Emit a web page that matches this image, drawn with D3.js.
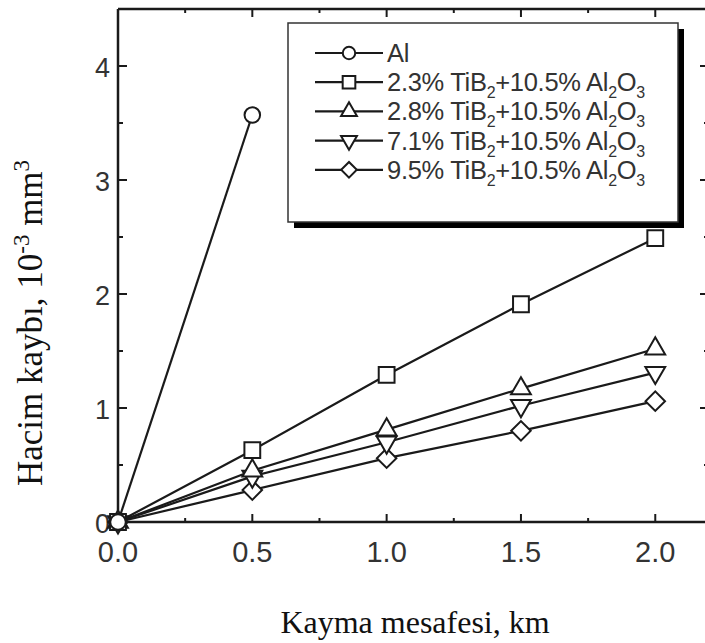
<!DOCTYPE html>
<html>
<head>
<meta charset="utf-8">
<script src="https://cdn.jsdelivr.net/npm/d3@7"></script>
<style>
  html, body { margin: 0; padding: 0; background: #fff; }
  svg { display: block; }
</style>
</head>
<body>
<svg id="chart" width="705" height="643"></svg>
<script>
// Sliding distance (km) at which wear volume was measured
const distances = [0, 0.5, 1.0, 1.5, 2.0];

// Volume loss, 10^-3 mm^3, one array per material
const alLoss      = [0, 3.57];
const tib23Loss   = [0, 0.63, 1.29, 1.91, 2.49];
const tib28Loss   = [0, 0.45, 0.81, 1.17, 1.52];
const tib71Loss   = [0, 0.40, 0.70, 1.02, 1.31];
const tib95Loss   = [0, 0.28, 0.56, 0.80, 1.06];

const seriesNames = ["Al", "2.3%", "2.8%", "7.1%", "9.5%"];
const seriesShapes = ["circle", "square", "triangleUp", "triangleDown", "diamond"];

const xTickValues = [0, 0.5, 1.0, 1.5, 2.0];
const xTickLabels = ["0.0", "0.5", "1.0", "1.5", "2.0"];
const yTickValues = [0, 1, 2, 3, 4];
const yTickLabels = ["0", "1", "2", "3", "4"];

const series = [alLoss, tib23Loss, tib28Loss, tib71Loss, tib95Loss].map((vals, i) => ({
  name: seriesNames[i],
  shape: seriesShapes[i],
  points: vals.map((v, j) => ({ x: distances[j], y: v }))
}));

const svg = d3.select("#chart");
const plotLeft = 118, plotTop = 9, plotRight = 709, plotBottom = 522;

const x = d3.scaleLinear().domain([0, 2.2]).range([plotLeft, plotRight]);
const y = d3.scaleLinear().domain([0, 4.5]).range([plotBottom, plotTop]);

const ink = "#1a1a1a";
const tickFont = "'Liberation Sans', Arial, sans-serif";
const titleFont = "'Liberation Serif', 'Times New Roman', serif";

// Marker path generator
function markerPath(shape) {
  switch (shape) {
    case "circle": return d3.symbol(d3.symbolCircle, 190)();
    case "square": return d3.symbol(d3.symbolSquare, 250)();
    case "triangleUp": return d3.symbol(d3.symbolTriangle, 170)();
    case "triangleDown": return d3.symbol(d3.symbolTriangle, 170)();
    case "diamond": return d3.symbol(d3.symbolSquare, 190)();
  }
}
function markerRotate(shape) {
  if (shape === "triangleDown") return 180;
  if (shape === "diamond") return 45;
  return 0;
}

// Frame
const frame = svg.append("g").attr("stroke", ink).attr("stroke-width", 2.5);
frame.append("line").attr("x1", plotLeft).attr("x2", plotLeft).attr("y1", plotTop).attr("y2", plotBottom + 1);
frame.append("line").attr("x1", plotLeft).attr("x2", plotRight).attr("y1", plotBottom).attr("y2", plotBottom);
frame.append("line").attr("x1", plotLeft).attr("x2", plotRight).attr("y1", plotTop).attr("y2", plotTop);
frame.append("line").attr("x1", plotRight).attr("x2", plotRight).attr("y1", plotTop).attr("y2", plotBottom);

// Inward ticks on all four sides
const xMinor = d3.range(0.25, 2.2, 0.5);
const yMinor = d3.range(0.5, 4.5, 1);
const tickG = svg.append("g").attr("stroke", ink).attr("stroke-width", 2);
xTickValues.forEach(v => {
  tickG.append("line").attr("x1", x(v)).attr("x2", x(v)).attr("y1", plotBottom).attr("y2", plotBottom - 8);
  tickG.append("line").attr("x1", x(v)).attr("x2", x(v)).attr("y1", plotTop).attr("y2", plotTop + 8);
});
xMinor.forEach(v => {
  tickG.append("line").attr("x1", x(v)).attr("x2", x(v)).attr("y1", plotBottom).attr("y2", plotBottom - 4);
  tickG.append("line").attr("x1", x(v)).attr("x2", x(v)).attr("y1", plotTop).attr("y2", plotTop + 4);
});
yTickValues.forEach(v => {
  tickG.append("line").attr("x1", plotLeft).attr("x2", plotLeft + 9).attr("y1", y(v)).attr("y2", y(v));
  tickG.append("line").attr("x1", plotRight).attr("x2", plotRight - 9).attr("y1", y(v)).attr("y2", y(v));
});
yMinor.forEach(v => {
  tickG.append("line").attr("x1", plotLeft).attr("x2", plotLeft + 5).attr("y1", y(v)).attr("y2", y(v));
  tickG.append("line").attr("x1", plotRight).attr("x2", plotRight - 5).attr("y1", y(v)).attr("y2", y(v));
});

// Tick labels
svg.append("g").selectAll("text").data(xTickValues).join("text")
  .attr("x", d => x(d)).attr("y", 562)
  .attr("text-anchor", "middle")
  .attr("font-family", tickFont).attr("font-size", 29).attr("fill", "#333")
  .text((d, i) => xTickLabels[i]);
svg.append("g").selectAll("text").data(yTickValues).join("text")
  .attr("x", 110).attr("y", d => y(d) + 11)
  .attr("text-anchor", "end")
  .attr("font-family", tickFont).attr("font-size", 27).attr("fill", "#333")
  .text((d, i) => yTickLabels[i]);

// Axis titles
svg.append("text")
  .attr("x", 415).attr("y", 633)
  .attr("text-anchor", "middle")
  .attr("font-family", titleFont).attr("font-size", 32).attr("fill", "#111")
  .text("Kayma mesafesi, km");

const yTitle = svg.append("text")
  .attr("transform", "translate(42,323) rotate(-90)")
  .attr("text-anchor", "middle")
  .attr("font-family", titleFont).attr("font-size", 35).attr("fill", "#111");
yTitle.append("tspan").text("Hacim kaybı, 10");
yTitle.append("tspan").attr("font-size", 23).attr("dy", -13).text("-3");
yTitle.append("tspan").attr("dy", 13).text(" mm");
yTitle.append("tspan").attr("font-size", 23).attr("dy", -13).text("3");

// Series lines
const line = d3.line().x(d => x(d.x)).y(d => y(d.y));
const plot = svg.append("g");
plot.selectAll("path.series").data(series).join("path")
  .attr("class", "series")
  .attr("d", d => line(d.points))
  .attr("fill", "none").attr("stroke", ink).attr("stroke-width", 2.2);

// Markers (drawn from the last series back to the first, diamond on top at origin)
series.slice().reverse().forEach(s => {
  plot.append("g").selectAll("path").data(s.points).join("path")
    .attr("d", markerPath(s.shape))
    .attr("transform", d => `translate(${x(d.x)},${y(d.y)}) rotate(${markerRotate(s.shape)})`)
    .attr("fill", "#fff").attr("stroke", ink).attr("stroke-width", 2);
});

// Legend
const legendRows = [
  { shape: "circle", parts: [["Al"]] },
  { shape: "square", parts: [["2.3% TiB"], ["2", "sub"], ["+10.5% Al"], ["2", "sub"], ["O"], ["3", "sub"]] },
  { shape: "triangleUp", parts: [["2.8% TiB"], ["2", "sub"], ["+10.5% Al"], ["2", "sub"], ["O"], ["3", "sub"]] },
  { shape: "triangleDown", parts: [["7.1% TiB"], ["2", "sub"], ["+10.5% Al"], ["2", "sub"], ["O"], ["3", "sub"]] },
  { shape: "diamond", parts: [["9.5% TiB"], ["2", "sub"], ["+10.5% Al"], ["2", "sub"], ["O"], ["3", "sub"]] }
];
const lg = svg.append("g");
const bx = 288, by = 23, bw = 390, bh = 199;
lg.append("rect").attr("x", bx + 6).attr("y", by + 6).attr("width", bw).attr("height", bh).attr("fill", "#000");
lg.append("rect").attr("x", bx).attr("y", by).attr("width", bw).attr("height", bh)
  .attr("fill", "#fff").attr("stroke", "#333").attr("stroke-width", 1.5);

legendRows.forEach((row, i) => {
  const cy = 53 + i * 29.2;
  lg.append("line").attr("x1", 315).attr("x2", 383).attr("y1", cy).attr("y2", cy)
    .attr("stroke", ink).attr("stroke-width", 2.2);
  const scale = 0.8;
  lg.append("path")
    .attr("d", markerPath(row.shape))
    .attr("transform", `translate(349,${cy}) rotate(${markerRotate(row.shape)}) scale(${scale})`)
    .attr("fill", "#fff").attr("stroke", ink).attr("stroke-width", 2 / scale);
  const t = lg.append("text").attr("x", 387).attr("y", cy + 9)
    .attr("font-family", tickFont).attr("font-size", 25.5).attr("fill", "#333")
    .attr("letter-spacing", -0.3);
  let shifted = false;
  row.parts.forEach(([txt, kind]) => {
    const sp = t.append("tspan").text(txt);
    if (kind === "sub") {
      sp.attr("font-size", 16).attr("dy", shifted ? 0 : 7);
      shifted = true;
    } else {
      if (shifted) sp.attr("dy", -7);
      shifted = false;
    }
  });
});
</script>
</body>
</html>
